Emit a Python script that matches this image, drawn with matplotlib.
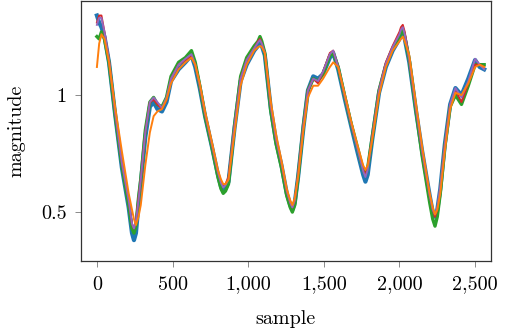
import matplotlib
matplotlib.use("Agg")
import matplotlib.pyplot as plt
from matplotlib.ticker import FuncFormatter, FixedLocator

# sample positions (shared by all series)
samples = [0, 15, 30, 50, 80, 120, 165, 210, 232, 245, 258, 275, 290, 320, 350, 375, 400, 430,
           460, 490, 540, 585, 625, 650, 680, 715, 760, 800, 820, 835, 850, 870, 910, 950, 990,
           1040, 1065, 1078, 1090, 1110, 1150, 1185, 1220, 1255, 1278, 1292, 1308, 1330, 1365,
           1395, 1430, 1462, 1495, 1540, 1562, 1595, 1640, 1680, 1725, 1760, 1775, 1790, 1820,
           1865, 1910, 1955, 2000, 2010, 2022, 2035, 2065, 2110, 2150, 2200, 2220, 2235, 2250,
           2270, 2300, 2335, 2370, 2410, 2455, 2500, 2530, 2560]

blue = [1.34, 1.31, 1.29, 1.25, 1.14, 0.92, 0.69, 0.52, 0.41, 0.38, 0.41, 0.53, 0.62, 0.82, 0.95,
        0.97, 0.94, 0.93, 0.97, 1.06, 1.11, 1.14, 1.17, 1.12, 1.03, 0.91, 0.78, 0.66, 0.61, 0.59,
        0.60, 0.63, 0.86, 1.06, 1.13, 1.19, 1.21, 1.22, 1.21, 1.17, 0.94, 0.80, 0.70, 0.58, 0.53,
        0.51, 0.54, 0.65, 0.86, 1.02, 1.08, 1.07, 1.09, 1.16, 1.18, 1.11, 0.98, 0.87, 0.75, 0.66,
        0.63, 0.66, 0.81, 1.01, 1.12, 1.19, 1.24, 1.26, 1.27, 1.24, 1.14, 0.93, 0.76, 0.57, 0.50,
        0.48, 0.51, 0.60, 0.79, 0.96, 1.03, 1.00, 1.07, 1.15, 1.12, 1.11]

green = [1.25, 1.24, 1.27, 1.24, 1.14, 0.92, 0.70, 0.53, 0.43, 0.41, 0.44, 0.56, 0.64, 0.85, 0.97,
         0.99, 0.96, 0.95, 0.99, 1.08, 1.14, 1.16, 1.19, 1.14, 1.04, 0.91, 0.78, 0.65, 0.60, 0.58,
         0.59, 0.62, 0.87, 1.08, 1.16, 1.21, 1.23, 1.25, 1.23, 1.18, 0.93, 0.79, 0.69, 0.57, 0.52,
         0.50, 0.53, 0.65, 0.87, 1.02, 1.07, 1.06, 1.09, 1.17, 1.18, 1.12, 0.99, 0.88, 0.77, 0.68,
         0.66, 0.69, 0.82, 1.02, 1.13, 1.20, 1.25, 1.27, 1.28, 1.25, 1.15, 0.93, 0.74, 0.54, 0.47,
         0.44, 0.48, 0.58, 0.78, 0.95, 1.00, 0.96, 1.04, 1.13, 1.13, 1.13]

red = [1.31, 1.34, 1.34, 1.27, 1.15, 0.93, 0.71, 0.55, 0.45, 0.43, 0.46, 0.56, 0.64, 0.84, 0.97,
       0.98, 0.96, 0.94, 0.98, 1.07, 1.13, 1.15, 1.17, 1.13, 1.04, 0.92, 0.79, 0.67, 0.63, 0.61,
       0.62, 0.65, 0.87, 1.07, 1.15, 1.20, 1.23, 1.24, 1.22, 1.18, 0.95, 0.81, 0.71, 0.59, 0.54,
       0.52, 0.55, 0.66, 0.87, 1.02, 1.07, 1.05, 1.10, 1.18, 1.19, 1.12, 0.99, 0.88, 0.77, 0.68,
       0.66, 0.69, 0.82, 1.02, 1.14, 1.21, 1.27, 1.29, 1.30, 1.27, 1.15, 0.94, 0.76, 0.57, 0.51,
       0.48, 0.51, 0.60, 0.79, 0.96, 1.02, 0.97, 1.05, 1.13, 1.13, 1.12]

orange = [1.12, 1.22, 1.26, 1.24, 1.14, 0.95, 0.76, 0.58, 0.51, 0.47, 0.445, 0.48, 0.53, 0.70, 0.84,
          0.91, 0.93, 0.94, 0.98, 1.05, 1.11, 1.14, 1.16, 1.13, 1.05, 0.93, 0.80, 0.68, 0.64, 0.62,
          0.62, 0.64, 0.84, 1.04, 1.13, 1.19, 1.205, 1.21, 1.205, 1.18, 0.97, 0.83, 0.72, 0.60, 0.55,
          0.53, 0.56, 0.65, 0.85, 0.99, 1.04, 1.04, 1.07, 1.12, 1.14, 1.12, 1.00, 0.89, 0.78, 0.70,
          0.68, 0.70, 0.81, 1.00, 1.12, 1.19, 1.23, 1.24, 1.25, 1.23, 1.17, 0.96, 0.78, 0.58, 0.52,
          0.49, 0.51, 0.58, 0.76, 0.94, 1.01, 1.00, 1.05, 1.12, 1.13, 1.12]

purple = [1.30, 1.33, 1.33, 1.27, 1.15, 0.93, 0.71, 0.55, 0.45, 0.43, 0.46, 0.55, 0.64, 0.84, 0.97,
          0.99, 0.97, 0.945, 0.99, 1.07, 1.13, 1.155, 1.175, 1.13, 1.04, 0.92, 0.79, 0.67, 0.625,
          0.605, 0.615, 0.64, 0.87, 1.07, 1.15, 1.20, 1.225, 1.235, 1.22, 1.18, 0.95, 0.81, 0.71,
          0.59, 0.54, 0.52, 0.55, 0.66, 0.87, 1.02, 1.07, 1.06, 1.10, 1.175, 1.19, 1.12, 0.99,
          0.88, 0.765, 0.675, 0.65, 0.68, 0.82, 1.02, 1.135, 1.205, 1.26, 1.28, 1.29, 1.26, 1.15,
          0.94, 0.76, 0.57, 0.51, 0.49, 0.52, 0.61, 0.79, 0.96, 1.03, 0.99, 1.06, 1.155, 1.13, 1.11]

x_ticks = [0, 500, 1000, 1500, 2000, 2500]
y_ticks = [0.5, 1]

plt.rcParams['font.family'] = ['cmr10', 'DejaVu Serif']
plt.rcParams['axes.formatter.use_mathtext'] = True

fig = plt.figure(figsize=(5.07, 3.35), dpi=100)
ax = fig.add_axes([0.1598, 0.2209, 0.8086, 0.7761])

ax.plot(samples, blue, color='#1f77b4', lw=3.0, solid_joinstyle='round')
ax.plot(samples, green, color='#2ca02c', lw=2.4, solid_joinstyle='round')
ax.plot(samples, red, color='#d62728', lw=1.4)
ax.plot(samples, purple, color='#9467bd', lw=1.4)
ax.plot(samples, orange, color='#ff7f0e', lw=1.4)

ax.set_xlim(-105, 2605)
ax.set_ylim(0.291, 1.402)
ax.xaxis.set_major_locator(FixedLocator(x_ticks))
ax.yaxis.set_major_locator(FixedLocator(y_ticks))
ax.xaxis.set_major_formatter(FuncFormatter(lambda v, p: f"{v:,.0f}"))
ax.yaxis.set_major_formatter(FuncFormatter(lambda v, p: f"{v:g}"))

ax.tick_params(direction='out', length=4.5, width=0.6, color='#777777',
               labelsize=14.5, pad=6)
for s in ax.spines.values():
    s.set_linewidth(0.9)
    s.set_color('#333333')

ax.set_xlabel('sample', fontsize=14.5, labelpad=12)
ax.set_ylabel('magnitude', fontsize=14.5, labelpad=11)

fig.savefig('out.png', dpi=100)
